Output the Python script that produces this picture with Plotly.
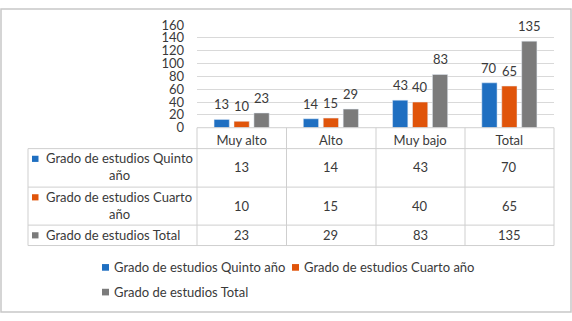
import plotly.graph_objects as go

categories = ["Muy alto", "Alto", "Muy bajo", "Total"]
series_names = ["Grado de estudios Quinto año", "Grado de estudios Cuarto año", "Grado de estudios Total"]
quinto = [13, 14, 43, 70]
cuarto = [10, 15, 40, 65]
total = [23, 29, 83, 135]
series_values = [quinto, cuarto, total]
colors = ["#1f6fc1", "#e0540a", "#7b7b7b"]
y_ticks = [0, 20, 40, 60, 80, 100, 120, 140, 160]

W, H = 572, 321
FONT = "Lato"
FS = 13
TXT = "#3a3a3a"
LINE = "#cfcfcf"


def X(px):
    return px / W


def Y(py):
    return 1 - py / H


fig = go.Figure()
for name, vals, col in zip(series_names, series_values, colors):
    fig.add_trace(go.Bar(
        x=categories, y=vals, name=name, marker_color=col,
        showlegend=False,
    ))

shapes = []
annotations = []

# data labels above bars (offset to each bar's slot in the group)
slot_shift = [-20, 0, 20]
for vals, dx in zip(series_values, slot_shift):
    for c, v in zip(categories, vals):
        annotations.append(dict(text=str(v), xref="x", yref="y", x=c, y=v, xshift=dx, yshift=15,
                                xanchor="center", yanchor="middle", showarrow=False,
                                font=dict(family=FONT, size=FS, color=TXT)))

# table grid
col_x = [197, 286.5, 376, 465, 554]
row_y = [126, 148, 188.5, 228.5, 250]
line = dict(color=LINE, width=1)
shapes.append(dict(type="line", xref="paper", yref="paper", x0=X(197), x1=X(554), y0=Y(126), y1=Y(126), line=line))
for yy in row_y[1:]:
    shapes.append(dict(type="line", xref="paper", yref="paper", x0=X(28), x1=X(554), y0=Y(yy), y1=Y(yy), line=line))
for xx in col_x:
    shapes.append(dict(type="line", xref="paper", yref="paper", x0=X(xx), x1=X(xx), y0=Y(126), y1=Y(250), line=line))
shapes.append(dict(type="line", xref="paper", yref="paper", x0=X(28), x1=X(28), y0=Y(148), y1=Y(250), line=line))

# row labels with keys
row_centers = [167, 208, 239]
key_tops = [155.5, 196, 236]
label_lines = [["Grado de estudios Quinto", "año"], ["Grado de estudios Cuarto", "año"], ["Grado de estudios Total"]]
for i, (lines, col) in enumerate(zip(label_lines, colors)):
    kt = key_tops[i]
    shapes.append(dict(type="rect", xref="paper", yref="paper", x0=X(32), x1=X(38.5), y0=Y(kt + 6.5), y1=Y(kt),
                       fillcolor=col, line=dict(width=0)))
    if len(lines) == 2:
        annotations.append(dict(text=lines[0], xref="paper", yref="paper", x=X(44), y=Y(row_centers[i] - 9),
                                xanchor="left", yanchor="middle", showarrow=False,
                                font=dict(family=FONT, size=FS, color=TXT)))
        annotations.append(dict(text=lines[1], xref="paper", yref="paper", x=X(119), y=Y(row_centers[i] + 9),
                                xanchor="center", yanchor="middle", showarrow=False,
                                font=dict(family=FONT, size=FS, color=TXT)))
    else:
        annotations.append(dict(text=lines[0], xref="paper", yref="paper", x=X(44), y=Y(row_centers[i]),
                                xanchor="left", yanchor="middle", showarrow=False,
                                font=dict(family=FONT, size=FS, color=TXT)))
    for c, v in zip(categories, series_values[i]):
        annotations.append(dict(text=str(v), xref="x", yref="paper", x=c, y=Y(row_centers[i]),
                                xanchor="center", yanchor="middle", showarrow=False,
                                font=dict(family=FONT, size=FS, color=TXT)))

# legend (manual)
leg_pos = [(102, 273), (292, 273), (102, 299)]
for (lx, ly), name, col in zip(leg_pos, series_names, colors):
    shapes.append(dict(type="rect", xref="paper", yref="paper", x0=X(lx), x1=X(lx + 7), y0=Y(ly + 3.5), y1=Y(ly - 3.5),
                       fillcolor=col, line=dict(width=0)))
    annotations.append(dict(text=name, xref="paper", yref="paper", x=X(lx + 10), y=Y(ly),
                            xanchor="left", yanchor="middle", showarrow=False,
                            font=dict(family=FONT, size=FS, color=TXT)))

# outer border
shapes.append(dict(type="rect", xref="paper", yref="paper", x0=X(1), x1=X(571), y0=Y(320), y1=Y(1),
                   line=dict(color="#c8c8c8", width=1.5), fillcolor="rgba(0,0,0,0)"))

fig.update_layout(
    width=W, height=H,
    margin=dict(l=0, r=0, t=0, b=0),
    paper_bgcolor="white", plot_bgcolor="white",
    barmode="group", bargap=0.33, bargroupgap=0.235,
    font=dict(family=FONT, size=FS, color=TXT),
    shapes=shapes, annotations=annotations,
    xaxis=dict(domain=[X(197), X(554)], showgrid=False, showline=False, zeroline=False,
               ticks="", tickfont=dict(family=FONT, size=FS, color=TXT), ticklabelstandoff=3,
               fixedrange=True),
    yaxis=dict(domain=[Y(126), Y(18)], range=[0, 160], tickvals=y_ticks,
               showgrid=True, gridcolor="#d9d9d9", gridwidth=1, zeroline=False, showline=False,
               ticks="", ticklabelstandoff=12, tickfont=dict(family=FONT, size=FS, color=TXT),
               fixedrange=True),
)

fig.write_html(
    "out.html",
    config={"displayModeBar": False},
    post_script="document.body.style.margin='0';document.body.style.overflow='hidden';",
)
